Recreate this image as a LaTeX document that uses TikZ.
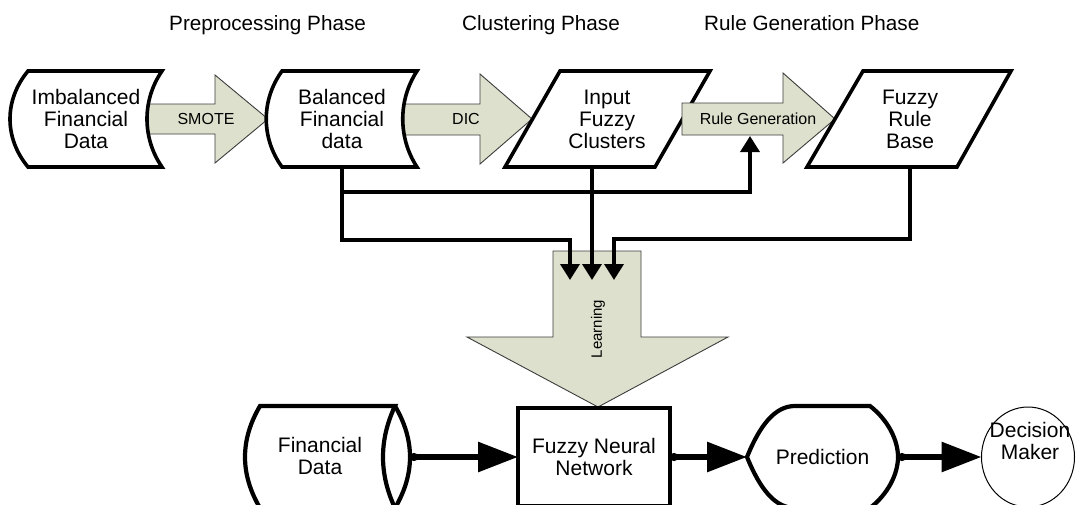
\documentclass[tikz,border=0pt]{standalone}
\usepackage{fontspec}
\setmainfont{Liberation Sans}
\usetikzlibrary{arrows.meta,shapes.geometric}
\definecolor{flowfill}{RGB}{221,224,204}
\definecolor{flowedge}{RGB}{60,60,60}

\begin{document}
\begin{tikzpicture}[x=1pt,y=-1pt,
  shapeline/.style={draw=black, line width=3.6pt, fill=white, line join=miter},
  bigshape/.style={draw=black, line width=4.2pt, fill=white, line join=miter},
  blockarrow/.style={draw=flowedge, line width=0.9pt, fill=flowfill, line join=miter},
  nodetext/.style={font=\fontsize{21}{22}\selectfont, align=center, inner sep=0pt, outer sep=0pt},
  phasetext/.style={font=\fontsize{20.7}{22}\selectfont, inner sep=0pt, anchor=base west},
  arrowtext/.style={font=\fontsize{16}{18}\selectfont, inner sep=0pt},
  conn/.style={line width=3.6pt, line join=miter, -{Triangle[length=16pt,width=19pt]}},
  bigconn/.style={line width=6pt, {Circle[length=8pt]}-{Triangle[length=40pt,width=29pt]}}
]
\useasboundingbox (0,0) rectangle (1084,504);
\clip (0,0) rectangle (1084,504);

% phase headings
\node[phasetext] (ph1) at (169,30) {Preprocessing Phase};
\node[phasetext] (ph2) at (462,30) {Clustering Phase};
\node[phasetext] (ph3) at (704,30) {Rule Generation Phase};

% block arrows between the first three stages
\path[blockarrow] (140,104) -- (215,104) -- (215,75) -- (268,119) -- (215,163) -- (215,134) -- (140,134) -- cycle;
\path[blockarrow] (395,104) -- (480,104) -- (480,74) -- (532,119) -- (480,164) -- (480,135) -- (395,135) -- cycle;

% imbalanced data (stored data shape)
\path[shapeline] (28,71) -- (162,71) .. controls (142,100) and (142,138) .. (162,167)
  -- (28,167) .. controls (4,138) and (4,100) .. (28,71) -- cycle;
% balanced data
\path[shapeline] (282,71) -- (417,71) .. controls (398,100) and (398,138) .. (417,167)
  -- (282,167) .. controls (261,138) and (261,100) .. (282,71) -- cycle;
% input fuzzy clusters
\path[shapeline] (560,71) -- (710,71) -- (655,167) -- (505,167) -- cycle;

% rule generation arrow (over the clusters shape)
\path[blockarrow] (682,103) -- (783,103) -- (783,73) -- (835,119) -- (783,163) -- (783,135) -- (682,135) -- cycle;

% fuzzy rule base
\path[shapeline] (863,71) -- (1011,71) -- (957,167) -- (807,167) -- cycle;

\node[nodetext, minimum height=96pt] (imb) at (86,119) {Imbalanced\\Financial\\Data};
\node[nodetext, minimum height=96pt] (bal) at (342,119) {Balanced\\Financial\\data};
\node[nodetext, minimum height=96pt] (ifc) at (607,119) {Input\\Fuzzy\\Clusters};
\node[nodetext, minimum height=96pt] (frb) at (910,119) {Fuzzy\\Rule\\Base};

\node[arrowtext] (smote) at (206,119) {SMOTE};
\node[arrowtext] (dic) at (466,119) {DIC};
\node[arrowtext] (rg) at (758,119) {Rule Generation};
\coordinate (rgin) at (750,136);

% learning arrow
\path[blockarrow] (553,251) -- (641,251) -- (641,337) -- (728,337) -- (598,407) -- (467,337) -- (553,337) -- cycle;
\node[font=\fontsize{15}{17}\selectfont, inner sep=0pt, rotate=90] (learn) at (598,329) {Learning};
\coordinate (in1) at (570,280);
\coordinate (in2) at (592,280);
\coordinate (in3) at (614,280);
\coordinate (split) at (342,192);

% feeds into learning
\draw[conn] (bal.south) |- (570,240) -- (in1);
\draw[conn] (split) -| (rgin);
\draw[conn] ([xshift=-15pt]ifc.south) -- (in2);
\draw[conn] (frb.south) |- (614,239) -- (in3);

% financial data (stored data with lens end)
\path[bigshape] (260,406) -- (395,406) .. controls (379,440) and (379,474) .. (395,508)
  -- (260,508) .. controls (240,474) and (240,440) .. (260,406) -- cycle;
\draw[draw=black, line width=4.2pt] (395,406) .. controls (415,440) and (415,474) .. (395,508);
\node[nodetext] (fd) at (320,456) {Financial\\Data};
\coordinate (fdout) at (410,457);

% fuzzy neural network
\node[nodetext, draw, line width=4.5pt, fill=white, minimum width=152pt, minimum height=98pt] (fnn) at (594,457) {Fuzzy Neural\\Network};

% prediction (display shape)
\path[bigshape] (747,457) .. controls (760,425) and (775,406) .. (795,406) -- (870,406)
  .. controls (888,420) and (898,440) .. (898,457)
  .. controls (898,474) and (888,494) .. (870,508) -- (795,508)
  .. controls (775,508) and (760,489) .. (747,457) -- cycle;
\node[nodetext, minimum width=151pt, minimum height=102pt] (pred) at (822.5,457) {Prediction};

% decision maker
\node[draw, ellipse, line width=1pt, fill=white, minimum width=93pt, minimum height=100pt, inner sep=0pt, outer sep=0pt] (dm) at (1028,457) {};
\node[nodetext] (dmtext) at (1030,441) {Decision\\Maker};

% main flow
\draw[bigconn] (fdout) -- (fnn.west);
\draw[bigconn] (fnn.east) -- (pred.west);
\draw[bigconn] (pred.east) -- (dm.west);
\end{tikzpicture}
\end{document}
